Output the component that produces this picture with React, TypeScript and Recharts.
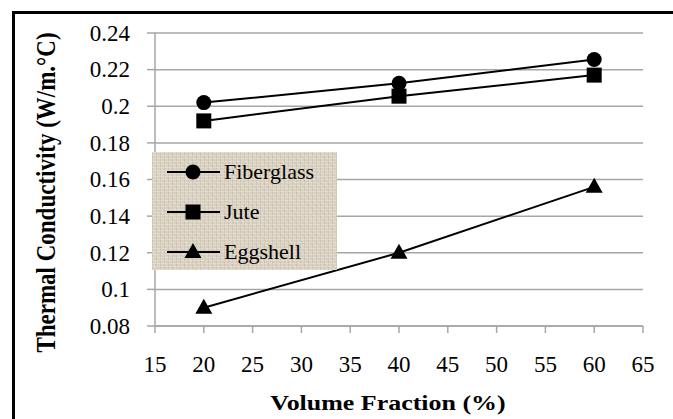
import React from "react";
import { LineChart, Line, XAxis, YAxis, CartesianGrid } from "recharts";

// volume fraction (%) at which each composite was measured
const volumeFraction = [20, 40, 60];
const fiberglass = [0.202, 0.2125, 0.2255];
const jute = [0.192, 0.2055, 0.217];
const eggshell = [0.09, 0.12, 0.156];

const xTicks = [15, 20, 25, 30, 35, 40, 45, 50, 55, 60, 65];
const yTicks = [0.08, 0.1, 0.12, 0.14, 0.16, 0.18, 0.2, 0.22, 0.24];

const seriesNames = ["Fiberglass", "Jute", "Eggshell"];
const seriesShapes = ["circle", "square", "triangle"];

const data = volumeFraction.map((v, i) => ({
  vf: v,
  Fiberglass: fiberglass[i],
  Jute: jute[i],
  Eggshell: eggshell[i],
}));

const FONT = "Liberation Serif";
const SX = 1.18; // bold titles in the original are stretched sideways
const GRID = "#a6a6a6";

// only the bold titles get stretched; regular text is left plain
const stretch = (x: number) => `translate(${x} 0) scale(${SX} 1) translate(${-x} 0)`;

const fmt = (v: number) => String(parseFloat(v.toFixed(2)));

const plain = (size: number): React.CSSProperties => ({ fontFamily: FONT, fontSize: size });
const bold = (size: number): React.CSSProperties => ({
  fontFamily: FONT,
  fontSize: size,
  fontWeight: 700,
});

const Marker = ({ shape, cx, cy }: { shape: string; cx: number; cy: number }) => {
  if (shape === "circle") return <circle cx={cx} cy={cy} r={7.5} fill="#000" />;
  if (shape === "square")
    return <rect x={cx - 7.5} y={cy - 7.5} width={15} height={15} fill="#000" />;
  return (
    <polygon
      points={`${cx},${cy - 9} ${cx + 8.5},${cy + 6} ${cx - 8.5},${cy + 6}`}
      fill="#000"
    />
  );
};

const makeDot = (shape: string) => (props: any) => {
  const { cx, cy, index } = props;
  if (cx == null || cy == null) return <g key={index} />;
  return (
    <g key={`${shape}-${index}`}>
      <Marker shape={shape} cx={cx} cy={cy} />
    </g>
  );
};

const YTick = (props: any) => {
  const { x, y, payload } = props;
  return (
    <text x={x} y={y} dy="0.34em" textAnchor="end" style={plain(23)}>
      {fmt(payload.value)}
    </text>
  );
};

const XTick = (props: any) => {
  const { x, y, payload } = props;
  return (
    <text x={x} y={y} dy="0.71em" textAnchor="middle" style={plain(23)}>
      {payload.value}
    </text>
  );
};

const XTitle = (props: any) => {
  const vb = props.viewBox || { x: 155, y: 326, width: 488 };
  const cx = vb.x + vb.width / 2 - 11;
  return (
    <text x={cx} y={vb.y + 84} textAnchor="middle" style={bold(22)} transform={stretch(cx)}>
      Volume Fraction (%)
    </text>
  );
};

const YTitle = (props: any) => {
  const vb = props.viewBox || { x: 85, y: 33, height: 293 };
  const cx = vb.x - 39;
  const cy = vb.y + vb.height / 2 + 13;
  return (
    <text
      x={cx}
      y={cy}
      dy="0.35em"
      textAnchor="middle"
      style={bold(23)}
      transform={`translate(${cx} ${cy}) rotate(-90) scale(1 ${SX}) translate(${-cx} ${-cy})`}
    >
      Thermal Conductivity (W/m.°C)
    </text>
  );
};

const linen =
  "repeating-linear-gradient(0deg, rgba(255,255,255,0.22) 0 1px, transparent 1px 3px)," +
  "repeating-linear-gradient(90deg, rgba(110,90,60,0.10) 0 1px, transparent 1px 4px)," +
  "repeating-linear-gradient(45deg, rgba(150,130,100,0.06) 0 2px, transparent 2px 5px)," +
  "#dbd3c3";

const LegendBox = () => (
  <div
    style={{
      position: "absolute",
      left: 152,
      top: 152,
      width: 185,
      height: 118,
      background: linen,
    }}
  >
    <svg width={185} height={118}>
      {seriesNames.map((name, i) => {
        const y = 20 + i * 40;
        return (
          <g key={name}>
            <line x1={15} x2={68} y1={y} y2={y} stroke="#000" strokeWidth={2} />
            <Marker shape={seriesShapes[i]} cx={41} cy={y} />
            <text x={72} y={y} dy="0.34em" style={plain(22)}>
              {name}
            </text>
          </g>
        );
      })}
    </svg>
  </div>
);

export default function App() {
  return (
    <div
      style={{
        position: "absolute",
        left: 0,
        top: 0,
        width: 673,
        height: 419,
        overflow: "hidden",
        background: "#fff",
      }}
    >
      <div
        style={{
          position: "absolute",
          left: 12,
          top: 11,
          width: 720,
          height: 460,
          borderLeft: "3px solid #000",
          borderTop: "3px solid #000",
        }}
      />
      <LineChart
        width={673}
        height={419}
        data={data}
        margin={{ top: 33, right: 30, bottom: 33, left: 85 }}
      >
        <CartesianGrid vertical={false} stroke={GRID} strokeWidth={1.5} />
        <XAxis
          dataKey="vf"
          type="number"
          domain={[15, 65]}
          ticks={xTicks}
          interval={0}
          height={60}
          tickSize={7}
          tickMargin={23}
          axisLine={{ stroke: GRID, strokeWidth: 1.5 }}
          tickLine={{ stroke: GRID, strokeWidth: 1.5 }}
          tick={<XTick />}
          label={<XTitle />}
        />
        <YAxis
          type="number"
          domain={[0.08, 0.24]}
          ticks={yTicks}
          interval={0}
          width={70}
          tickSize={8}
          tickMargin={17}
          axisLine={{ stroke: GRID, strokeWidth: 1.5 }}
          tickLine={{ stroke: GRID, strokeWidth: 1.5 }}
          tick={<YTick />}
          label={<YTitle />}
        />
        {seriesNames.map((name, i) => (
          <Line
            key={name}
            dataKey={name}
            stroke="#000"
            strokeWidth={2}
            dot={makeDot(seriesShapes[i])}
            activeDot={false}
            isAnimationActive={false}
          />
        ))}
      </LineChart>
      <LegendBox />
    </div>
  );
}
